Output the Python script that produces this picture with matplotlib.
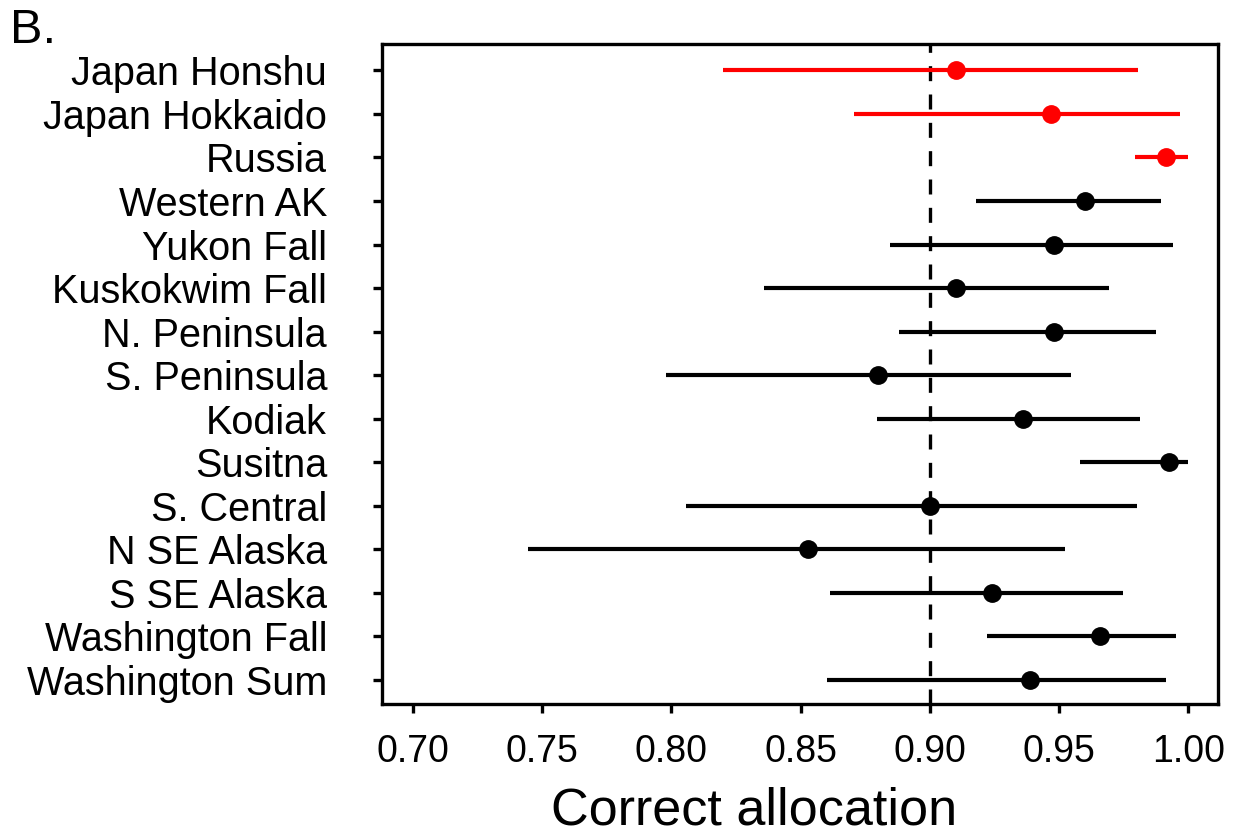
import matplotlib
matplotlib.use("Agg")
import matplotlib.pyplot as plt

plt.rcParams['font.family'] = ['Liberation Sans', 'DejaVu Sans']

regions = ["Japan Honshu", "Japan Hokkaido", "Russia", "Western AK", "Yukon Fall",
           "Kuskokwim Fall", "N. Peninsula", "S. Peninsula", "Kodiak", "Susitna",
           "S. Central", "N SE Alaska", "S SE Alaska", "Washington Fall", "Washington Sum"]
allocation = [0.910, 0.947, 0.9915, 0.960, 0.948, 0.910, 0.948, 0.880, 0.936, 0.9926,
              0.900, 0.853, 0.924, 0.9656, 0.9386]
lower = [0.820, 0.8707, 0.9795, 0.9178, 0.8844, 0.8357, 0.8879, 0.7978, 0.8794, 0.9582,
         0.8055, 0.7444, 0.8612, 0.9221, 0.8601]
upper = [0.9806, 0.9967, 1.000, 0.9895, 0.9942, 0.9694, 0.9876, 0.9544, 0.9814, 1.000,
         0.9799, 0.9521, 0.9745, 0.9952, 0.9912]
colors = ["red"] * 3 + ["black"] * 12
xticks = [0.70, 0.75, 0.80, 0.85, 0.90, 0.95, 1.00]

fig = plt.figure(figsize=(12.4, 8.35), dpi=100)
ax = fig.add_axes([0.308, 0.157, 0.674, 0.790])

ax.axvline(0.90, color="black", lw=2.4, ls=(0, (4.5, 4)), zorder=1)
for i, (name, mid, lo, hi, c) in enumerate(zip(regions, allocation, lower, upper, colors)):
    ax.hlines(i, lo, hi, color=c, lw=3.0, zorder=2)
    ax.plot(mid, i, "o", color=c, markersize=12.5, zorder=3)

ax.set_ylim(len(regions) - 0.45, -0.6)
ax.set_xlim(0.688, 1.0113)
ax.set_yticks(range(len(regions)))
ax.set_yticklabels(regions)
ax.set_xticks(xticks)
ax.set_xticklabels([f"{t:.2f}" for t in xticks])

for spine in ax.spines.values():
    spine.set_linewidth(2.4)
ax.tick_params(axis="y", length=6.5, width=2.4, pad=33, labelsize=28.5)
ax.tick_params(axis="x", length=6.5, width=2.4, pad=15, labelsize=27)
ax.set_xlabel("Correct allocation", fontsize=37.5)
ax.xaxis.set_label_coords(0.445, -0.125)

fig.text(0.008, 0.99, "B.", fontsize=35, va="top", ha="left")

fig.savefig("out.png", dpi=100)
